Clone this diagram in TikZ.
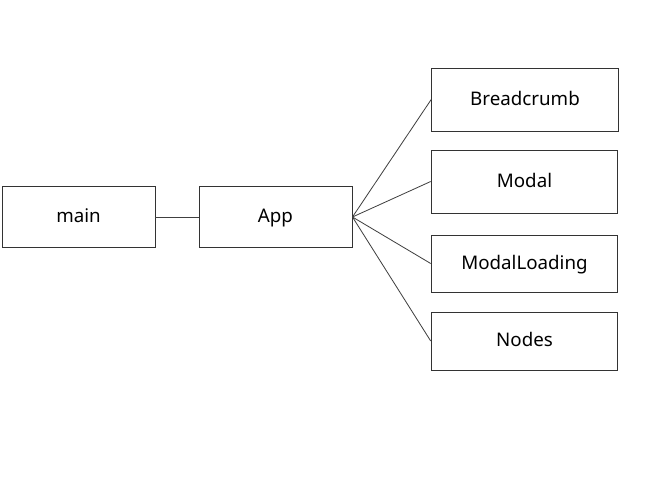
\documentclass[tikz,border=0pt]{standalone}
\usepackage{fontspec}
\setmainfont{Noto Sans}
\usepackage{tikz}

\tikzset{
  box/.style={draw=black!80, line width=0.8pt, minimum width=#1, minimum height=1.85cm, inner sep=0pt,
    text height=1.8ex, text depth=0pt, font=\fontsize{16}{19}\selectfont},
  box/.default=4.59cm,
  link/.style={draw=black!75, line width=0.7pt}
}

\begin{document}
\begin{tikzpicture}[x=0.03cm, y=-0.03cm]

\useasboundingbox (0,0) rectangle (670,486);

\node[box] (main) at (78.5,217) {main};
\node[box] (app) at (275.5,217) {App};

\node[box=5.6cm, minimum height=1.89cm] (breadcrumb) at (525,99.5) {Breadcrumb};
\node[box=5.6cm, minimum height=1.89cm] (modal) at (524.5,181.5) {Modal};
\node[box=5.6cm, minimum height=1.71cm] (loading) at (524.5,263.5) {ModalLoading};
\node[box=5.6cm, minimum height=1.74cm] (nodes) at (524.5,341) {Nodes};

\draw[link] (main.east)--(app.west);

\foreach \n in {breadcrumb,modal,loading,nodes}{
\draw[link] (app.east)--(\n.west);
}

\end{tikzpicture}
\end{document}
